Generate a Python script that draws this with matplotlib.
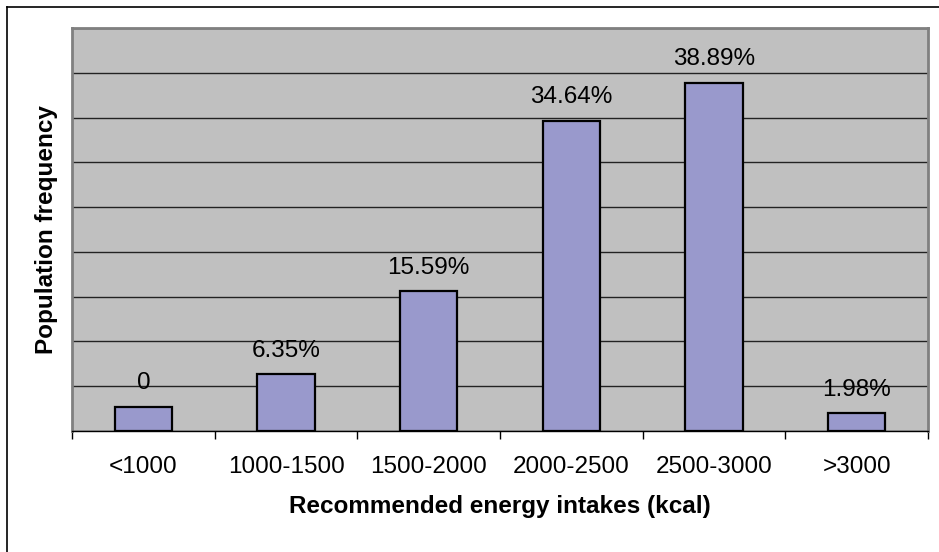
"""Population frequency by recommended energy intake (Excel-style bar chart)."""
import matplotlib
matplotlib.use("Agg")
import matplotlib.pyplot as plt
from matplotlib.lines import Line2D

plt.rcParams["font.family"] = ["Liberation Sans", "DejaVu Sans"]

categories = ["<1000", "1000-1500", "1500-2000", "2000-2500", "2500-3000", ">3000"]
# bar heights in percent (first bar is drawn short but labelled "0" in the source)
values = [2.68, 6.35, 15.59, 34.64, 38.89, 1.98]
value_labels = ["0", "6.35%", "15.59%", "34.64%", "38.89%", "1.98%"]

FS = 17.5

fig = plt.figure(figsize=(9.39, 5.52), dpi=100)
ax = fig.add_axes([72 / 939, 1 - 431 / 552, (928 - 72) / 939, (431 - 28) / 552])

x = list(range(len(categories)))
ax.bar(x, values, width=0.4, color="#9999CC", edgecolor="black", linewidth=1.6, zorder=3)

for xi, v, lab in zip(x, values, value_labels):
    ax.annotate(lab, (xi, v), xytext=(0, 9), textcoords="offset points",
                ha="center", va="bottom", fontsize=FS, zorder=4)

ax.set_xlim(-0.5, len(categories) - 0.5)
ax.set_ylim(0, 45)
ax.set_facecolor("#C0C0C0")
ax.set_yticks(range(0, 46, 5))
ax.set_yticklabels([])
ax.tick_params(axis="y", length=0, pad=0)
ax.grid(axis="y", color="#222222", linewidth=1.0, zorder=1)

# ticks between categories on the x axis
ax.set_xticks([i - 0.5 for i in range(len(categories) + 1)], minor=False)
ax.set_xticklabels([])
ax.set_xticks(x, minor=True)
ax.set_xticklabels(categories, minor=True, fontsize=FS)
ax.tick_params(axis="x", which="major", direction="out", length=6, width=1, color="black")
ax.tick_params(axis="x", which="minor", length=0, pad=18)

for side in ("top", "right", "left"):
    ax.spines[side].set_color("#808080")
    ax.spines[side].set_linewidth(2)
ax.spines["bottom"].set_color("black")
ax.spines["bottom"].set_linewidth(1)

ax.set_xlabel("Recommended energy intakes (kcal)", fontsize=FS, fontweight="bold", labelpad=12)
ax.set_ylabel("Population frequency", fontsize=FS, fontweight="bold", labelpad=10)

# outer chart border (only left and top edges visible in the reference)
fig.add_artist(Line2D([7 / 939, 7 / 939], [0, 1 - 7 / 552], color="black", linewidth=1.2,
                      transform=fig.transFigure))
fig.add_artist(Line2D([7 / 939, 1], [1 - 7 / 552, 1 - 7 / 552], color="black", linewidth=1.2,
                      transform=fig.transFigure))

fig.savefig("out.png", dpi=100)
